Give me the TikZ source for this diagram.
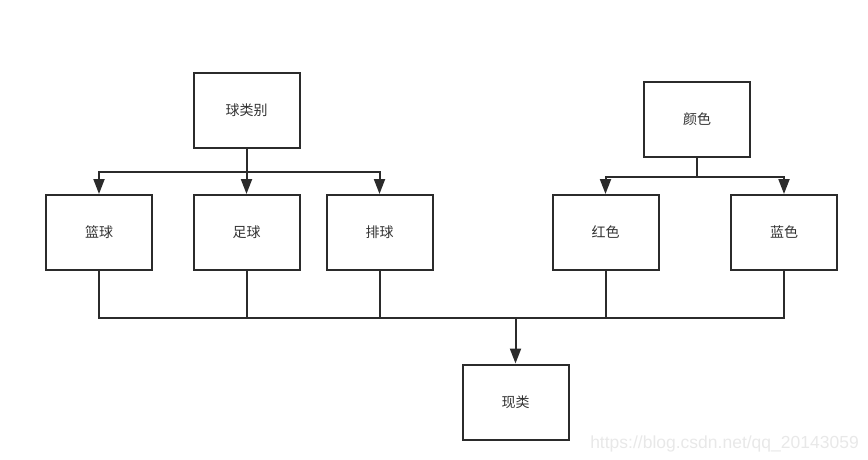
\documentclass[tikz,border=0pt]{standalone}
\usepackage{fontspec}
\newfontfamily\cjk{Noto Sans CJK SC}
\setsansfont{Liberation Sans}
\usetikzlibrary{arrows.meta}
\definecolor{ln}{HTML}{2B2B2B}
\definecolor{tx}{HTML}{333333}
\definecolor{wm}{HTML}{E8E8E8}
\begin{document}
\begin{tikzpicture}[x=1pt,y=-1pt,
  box/.style={draw=ln,line width=2pt,minimum width=106pt,minimum height=75pt,inner sep=0pt,
    font=\cjk\fontsize{14}{16}\selectfont,text=tx},
  conn/.style={draw=ln,line width=2pt},
  arr/.style={conn,-{Triangle[length=15pt,width=11pt]}}]
\useasboundingbox (0,0) rectangle (868,459);
\node[box] (lei) at (246.5,110) {球类别};
\node[box] (yan) at (697,119.5) {颜色};
\node[box] (lan) at (99,232.5) {篮球};
\node[box] (zu) at (246.5,232.5) {足球};
\node[box] (pai) at (379.5,232.5) {排球};
\node[box] (hong) at (605.5,232.5) {红色};
\node[box] (lanse) at (784,232.5) {蓝色};
\node[box] (xian) at (515.5,402) {现类};
\node[font=\sffamily\fontsize{17.5}{20}\selectfont,text=wm,anchor=base east,inner sep=0pt] (wmk) at (859,448) {https://blog.csdn.net/qq\_20143059};
\coordinate (h1) at (246.5,172);
\coordinate (h2) at (697,177);
\coordinate (h3) at (515.5,318);
\draw[conn] (lei.south) -- (h1);
\draw[arr] (h1) -| (lan.north);
\draw[arr] (h1) -| (pai.north);
\draw[arr] (h1) -- (zu.north);
\draw[conn] (yan.south) -- (h2);
\draw[arr] (h2) -| (hong.north);
\draw[arr] (h2) -| (lanse.north);
\draw[conn] (lan.south) |- (h3);
\draw[conn] (zu.south) |- (h3);
\draw[conn] (pai.south) |- (h3);
\draw[conn] (hong.south) |- (h3);
\draw[conn] (lanse.south) |- (h3);
\draw[arr] (h3) -- (xian.north);
\end{tikzpicture}
\end{document}
